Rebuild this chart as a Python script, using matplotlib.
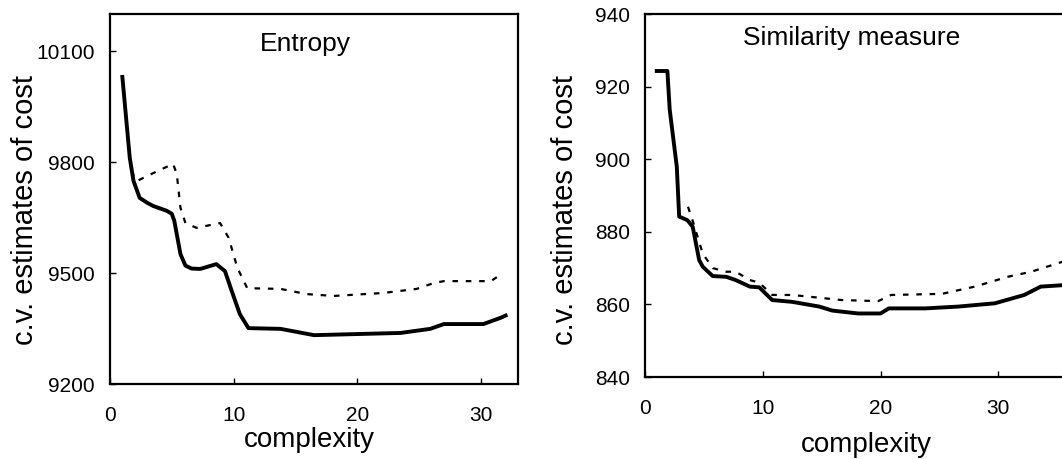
import matplotlib
matplotlib.use("Agg")
import matplotlib.pyplot as plt

plt.rcParams['font.family'] = ['Liberation Sans', 'DejaVu Sans']

# Entropy panel
ent_x_solid = [1.0, 1.3, 1.6, 1.9, 2.4, 3.0, 3.5, 4.6, 5.0, 5.2, 5.4, 5.7, 6.1, 6.6, 7.3, 8.6, 9.3,
               9.85, 10.5, 11.2, 13.8, 16.5, 20.0, 23.5, 25.9, 27.0, 30.2, 31.6, 32.0]
ent_y_solid = [10030, 9920, 9811, 9749, 9703, 9690, 9681, 9668, 9660, 9641, 9605, 9551, 9520, 9512, 9511, 9524, 9505,
               9451, 9389, 9351, 9349, 9332, 9335, 9338, 9349, 9362, 9362, 9379, 9385]
ent_x_dash = [1.7, 2.2, 3.5, 5.1, 5.4, 5.7, 6.1, 7.0, 8.9, 9.6, 10.3, 11.1, 13.8, 15.9, 18.1,
              22.1, 24.8, 26.2, 27.0, 30.8, 31.8]
ent_y_dash = [9776, 9749, 9770, 9795, 9768, 9676, 9635, 9622, 9635, 9595, 9514, 9459, 9457, 9443, 9438,
              9446, 9457, 9473, 9478, 9478, 9500]

# Similarity measure panel
sim_x_solid = [1.0, 1.9, 2.1, 2.7, 2.9, 3.6, 4.05, 4.6, 4.9, 5.75, 6.9, 7.7, 8.9, 9.7, 10.8, 12.5,
               14.8, 15.9, 18.1, 20.0, 20.7, 23.8, 26.6, 29.7, 32.2, 33.6, 35.5]
sim_y_solid = [924.3, 924.3, 913.6, 897.9, 884.2, 883.2, 881.4, 872.2, 870.4, 867.8, 867.6, 866.7, 864.9, 864.7, 861.2, 860.7,
               859.4, 858.3, 857.5, 857.5, 858.9, 858.9, 859.4, 860.3, 862.6, 864.9, 865.3]
sim_x_dash = [3.65, 4.05, 4.9, 5.75, 6.9, 7.7, 8.9, 9.7, 10.8, 12.5, 16.7, 19.8, 20.9, 25.2, 28.0, 30.8,
              32.8, 35.5]
sim_y_dash = [886.9, 883.0, 874.0, 870.0, 869.0, 869.0, 866.7, 866.0, 862.6, 862.6, 861.2, 860.9, 862.6, 862.9, 864.9, 867.6,
              869.0, 871.8]

fig = plt.figure(figsize=(10.62, 4.59), dpi=100)

W, H = 1062.0, 459.0
ax1 = fig.add_axes([110 / W, 1 - 384 / H, (518 - 110) / W, (384 - 14) / H])
ax2 = fig.add_axes([645 / W, 1 - 377 / H, (1069 - 645) / W, (377 - 14) / H])

dash = (0, (2.5, 3.5))

ax1.plot(ent_x_solid, ent_y_solid, color='black', lw=2.8)
ax1.plot(ent_x_dash, ent_y_dash, color='black', lw=1.6, linestyle=dash)
ax1.set_xlim(0, 33)
ax1.set_ylim(9200, 10200)
ax1.set_xticks([0, 10, 20, 30])
ax1.set_yticks([9200, 9500, 9800, 10100])
ax1.text(0.48, 0.92, 'Entropy', transform=ax1.transAxes, ha='center', va='center', fontsize=19)

ax2.plot(sim_x_solid, sim_y_solid, color='black', lw=2.8)
ax2.plot(sim_x_dash, sim_y_dash, color='black', lw=1.6, linestyle=dash)
ax2.set_xlim(0, 36)
ax2.set_ylim(840, 940)
ax2.set_xticks([0, 10, 20, 30])
ax2.set_yticks([840, 860, 880, 900, 920, 940])
ax2.text(0.488, 0.934, 'Similarity measure', transform=ax2.transAxes, ha='center', va='center', fontsize=19)

for ax in (ax1, ax2):
    for s in ax.spines.values():
        s.set_linewidth(1.6)
    ax.tick_params(direction='in', length=4, width=1, labelsize=15, pad=16, axis='x')
    ax.tick_params(direction='in', length=4, width=1, labelsize=15, pad=11, axis='y')
    ax.set_xlabel('complexity', fontsize=20, va='center')
    ax.set_ylabel('c.v. estimates of cost', fontsize=21, va='center')

ax1.xaxis.set_label_coords(0.488, -0.151)
ax1.yaxis.set_label_coords(-0.208, 0.47)
ax2.xaxis.set_label_coords(0.521, -0.187)
ax2.yaxis.set_label_coords(-0.189, 0.46)

fig.savefig('out.png', dpi=100)
